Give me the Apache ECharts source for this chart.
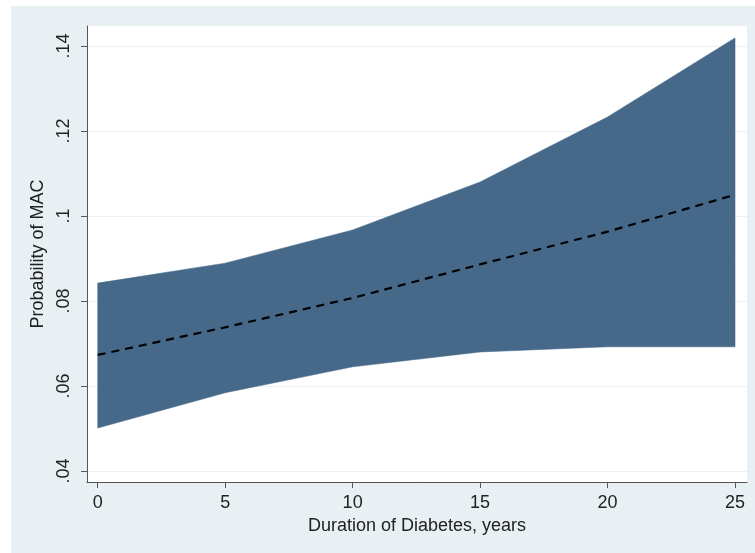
<!DOCTYPE html>
<html>
<head>
<meta charset="utf-8">
<script src="https://cdn.jsdelivr.net/npm/echarts@6/dist/echarts.min.js"></script>
<style>
html,body{margin:0;padding:0;background:#ffffff;}
#c{width:755px;height:553px;}
</style>
</head>
<body>
<div id="c"></div>
<script>
var years = [0, 5, 10, 15, 20, 25];
var upper = [0.0842, 0.0889, 0.0967, 0.1080, 0.1233, 0.1419];
var lower = [0.0501, 0.0584, 0.0645, 0.0680, 0.0692, 0.0692];
var mean  = [0.0673, 0.0738, 0.0807, 0.0886, 0.0963, 0.1050];
var yTicks = [0.04, 0.06, 0.08, 0.10, 0.12, 0.14];
var xTicks = [0, 5, 10, 15, 20, 25];

var chart = echarts.init(document.getElementById('c'), null, {renderer: 'canvas'});
var font = 'Liberation Sans, Arial, sans-serif';

var bandData = years.map(function (x, i) { return [x, lower[i], upper[i]]; });
var meanData = years.map(function (x, i) { return [x, mean[i]]; });

chart.setOption({
  animation: false,
  graphic: [{
    type: 'rect', z: -10, silent: true,
    shape: {x: 11, y: 6, width: 744, height: 547},
    style: {fill: '#e9f0f3'}
  }],
  grid: {
    left: 87, top: 26, right: 8, bottom: 71,
    show: true, backgroundColor: '#ffffff', borderWidth: 0
  },
  xAxis: {
    type: 'value', min: -0.42, max: 25.47,
    name: 'Duration of Diabetes, years',
    nameLocation: 'middle', nameGap: 31,
    nameTextStyle: {fontFamily: font, fontSize: 18, color: '#222'},
    axisLine: {show: true, onZero: false, lineStyle: {color: '#555', width: 1}},
    axisTick: {show: true, length: 6, lineStyle: {color: '#555'},
      customValues: xTicks},
    axisLabel: {fontFamily: font, fontSize: 18, color: '#222', margin: 12,
      customValues: xTicks, showMinLabel: true, showMaxLabel: true},
    splitLine: {show: false}
  },
  yAxis: {
    type: 'value', min: 0.0374, max: 0.1447,
    name: 'Probability of MAC',
    nameLocation: 'middle', nameGap: 34,
    nameTextStyle: {fontFamily: font, fontSize: 18, color: '#222'},
    axisLine: {show: true, onZero: false, lineStyle: {color: '#555', width: 1}},
    axisTick: {show: true, length: 6, lineStyle: {color: '#555'},
      customValues: yTicks},
    axisLabel: {fontFamily: font, fontSize: 18, color: '#222', margin: 14, rotate: 90,
      customValues: yTicks,
      formatter: function (v) { return String(+v.toFixed(2)).replace(/^0/, ''); }},
    splitLine: {show: true, lineStyle: {color: '#eaf2f4', width: 1}}
  },
  series: [
    {
      type: 'custom',
      coordinateSystem: 'cartesian2d',
      data: bandData,
      encode: {x: 0, y: [1, 2]},
      renderItem: function (params, api) {
        if (params.dataIndex !== 0) return null;
        var pts = [];
        var i;
        for (i = 0; i < bandData.length; i++) pts.push(api.coord([bandData[i][0], bandData[i][2]]));
        for (i = bandData.length - 1; i >= 0; i--) pts.push(api.coord([bandData[i][0], bandData[i][1]]));
        return {
          type: 'polygon',
          shape: {points: pts},
          style: {fill: '#46698a', stroke: '#3f6283', lineWidth: 0.5}
        };
      },
      z: 2
    },
    {
      type: 'line',
      data: meanData,
      symbol: 'none',
      lineStyle: {color: '#000000', width: 2.2, type: [8, 6]},
      z: 3
    }
  ]
});
</script>
</body>
</html>
